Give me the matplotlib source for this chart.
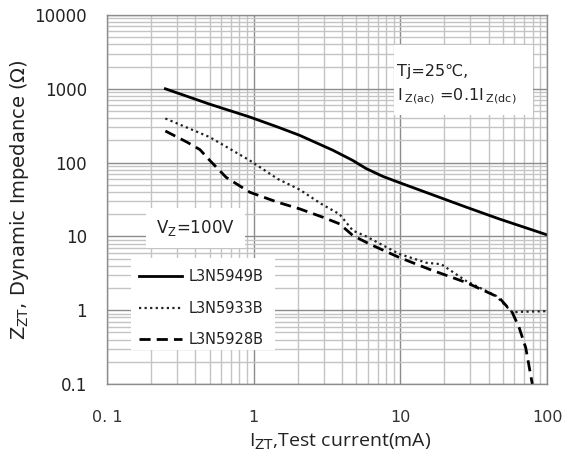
import matplotlib
matplotlib.use("Agg")
import matplotlib.pyplot as plt
from matplotlib.ticker import FixedLocator, LogLocator, NullFormatter, FixedFormatter

plt.rcParams['font.family'] = ['DejaVu Sans', 'Noto Sans CJK SC']

# Data
x_5949 = [0.25, 0.5, 0.94, 1.46, 2.06, 3.47, 4.74, 5.85, 7.6, 10, 28, 47, 100]
y_5949 = [1000, 620, 415, 303, 234, 147, 107, 83, 65, 53, 25, 17.3, 10.5]

x_5933 = [0.25, 0.5, 0.94, 1.46, 2.06, 2.88, 3.85, 4.74, 5.85, 9.8, 15, 19, 28, 44.8, 58, 64, 100]
y_5933 = [396, 222, 107, 60, 43, 27.7, 20, 12, 10, 5.8, 4.4, 4.2, 2.5, 1.57, 0.93, 0.95, 0.97]

x_5928 = [0.25, 0.35, 0.43, 0.5, 0.65, 0.94, 1.46, 2.06, 2.96, 3.85, 4.74, 6.15, 9.8, 15.7, 28, 47, 58, 64.6, 71.6, 79.4]
y_5928 = [268, 190, 150, 108, 63, 39.7, 29, 23.6, 18.2, 14.8, 10.3, 7.9, 5.2, 3.6, 2.38, 1.49, 0.93, 0.58, 0.31, 0.1]

series_names = ["L3N5949B", "L3N5933B", "L3N5928B"]
x_ticks = [0.1, 1, 10, 100]
x_tick_labels = ["0. 1", "1", "10", "100"]
y_ticks = [0.1, 1, 10, 100, 1000, 10000]
y_tick_labels = ["0.1", "1", "10", "100", "1000", "10000"]

fig = plt.figure(figsize=(5.69, 4.61), dpi=100)
ax = fig.add_axes([107/569, 77/461, 440/569, 369/461])
ax.set_xscale('log')
ax.set_yscale('log')
ax.set_xlim(0.1, 100)
ax.set_ylim(0.1, 10000)

ax.xaxis.set_major_locator(FixedLocator(x_ticks))
ax.xaxis.set_major_formatter(FixedFormatter(x_tick_labels))
ax.yaxis.set_major_locator(FixedLocator(y_ticks))
ax.yaxis.set_major_formatter(FixedFormatter(y_tick_labels))
ax.xaxis.set_minor_locator(LogLocator(base=10, subs=range(2, 10)))
ax.yaxis.set_minor_locator(LogLocator(base=10, subs=range(2, 10)))
ax.xaxis.set_minor_formatter(NullFormatter())
ax.yaxis.set_minor_formatter(NullFormatter())

ax.grid(which='major', color='#8c8c8c', linewidth=1.0)
ax.grid(which='minor', color='#c4c4c4', linewidth=1.0)
ax.set_axisbelow(True)
ax.tick_params(which='both', length=0)
ax.tick_params(axis='x', pad=18.5, labelsize=11.5, labelcolor='#333333')
ax.tick_params(axis='y', pad=14.5, labelsize=12, labelcolor='#222222')
for s in ax.spines.values():
    s.set_color('#8c8c8c')
    s.set_linewidth(1.0)

l1, = ax.plot(x_5949, y_5949, color='black', linewidth=2.0, linestyle='-', label=series_names[0])
l2, = ax.plot(x_5933, y_5933, color='#222222', linewidth=1.6, linestyle=(0, (1, 1.5)), label=series_names[1])
l3, = ax.plot(x_5928, y_5928, color='black', linewidth=2.0, linestyle=(0, (4, 2.2)), label=series_names[2])

ax.set_xlabel(r'I$_{\mathrm{ZT}}$,Test current(mA)', fontsize=14, color='#222222', labelpad=5,
              fontfamily='Open Sans')
ax.xaxis.label.set_x(0.53)
ax.set_ylabel(r'Z$_{\mathrm{ZT}}$, Dynamic Impedance ($\Omega$)', fontsize=14, color='#222222', labelpad=2)

# legend background box
ax.add_patch(plt.Rectangle((0.0545, 0.092), 0.3275, 0.249, transform=ax.transAxes,
                           facecolor='white', edgecolor='none', zorder=2.5))
leg = ax.legend(handles=[l1, l2, l3], loc='upper left', bbox_to_anchor=(0.072, 0.312),
                frameon=False, fontsize=10.5, handlelength=3.0, handletextpad=0.45,
                labelspacing=1.15, borderpad=0, borderaxespad=0)
for t in leg.get_texts():
    t.set_color('#222222')

ax.text(0.202, 0.423, r'V$_{\mathrm{Z}}$=100V', transform=ax.transAxes, ha='center', va='center',
        fontsize=12, color='#222222',
        bbox=dict(boxstyle='square,pad=0.6', facecolor='white', edgecolor='none'))

ax.add_patch(plt.Rectangle((0.652, 0.729), 0.316, 0.19, transform=ax.transAxes,
                           facecolor='white', edgecolor='none', zorder=2))
ax.text(0.66, 0.846, 'Tj=25℃,', transform=ax.transAxes, ha='left', va='center',
        fontsize=11.5, color='#222222', zorder=3)
ax.text(0.66, 0.78, r'I$\,_{\mathrm{Z(ac)}}$ =0.1I$\,_{\mathrm{Z(dc)}}$', transform=ax.transAxes,
        ha='left', va='center', fontsize=11.5, color='#222222', zorder=3)

fig.savefig('out.png', dpi=100)
